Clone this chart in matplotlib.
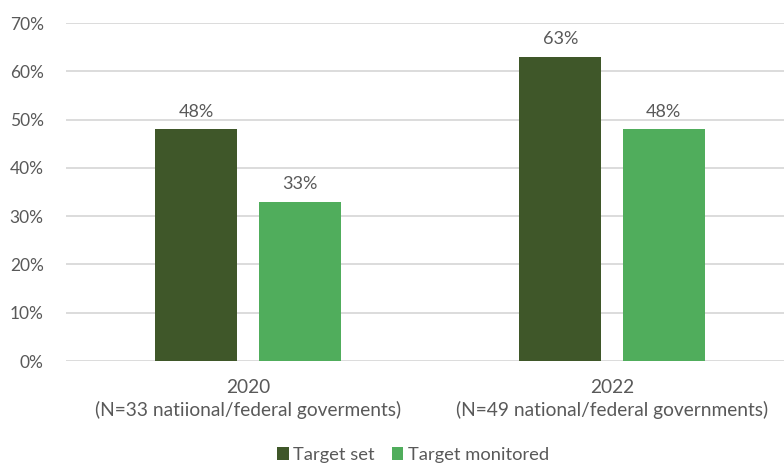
import matplotlib
matplotlib.use("Agg")
import matplotlib.pyplot as plt
import numpy as np

categories = ["2020\n(N=33 natiional/federal goverments)",
              "2022\n(N=49 national/federal governments)"]
target_set = [48, 63]
target_monitored = [33, 48]
series_names = ["Target set", "Target monitored"]
yticks = [0, 10, 20, 30, 40, 50, 60, 70]

dark = "#3F5729"
light = "#50AD5C"
text_col = "#595959"
grid_col = "#D9D9D9"

plt.rcParams["font.family"] = ["Lato", "DejaVu Sans"]

fig = plt.figure(figsize=(7.84, 4.65), dpi=100)
ax = fig.add_axes([66 / 784, 1 - 361 / 465, 728 / 784, (361 - 23) / 465])

x = np.arange(len(categories))
w = 0.225
off = 0.142
b1 = ax.bar(x - off, target_set, w, color=dark, label=series_names[0], zorder=3)
b2 = ax.bar(x + off, target_monitored, w, color=light, label=series_names[1], zorder=3)

for bars, vals in ((b1, target_set), (b2, target_monitored)):
    for rect, v in zip(bars, vals):
        ax.text(rect.get_x() + rect.get_width() / 2, v + 2.0, f"{v}%",
                ha="center", va="bottom", fontsize=13, color=text_col)

ax.set_xlim(-0.5, 1.5)
ax.set_ylim(0, 70)
ax.set_yticks(yticks)
ax.set_yticklabels([f"{t}%" for t in yticks], fontsize=12.5)
ax.set_xticks(x)
ax.set_xticklabels(categories, linespacing=1.35, fontsize=13.8)
ax.grid(axis="y", color=grid_col, linewidth=1.3, zorder=0)
ax.tick_params(axis="both", length=0, colors=text_col)
ax.tick_params(axis="y", pad=16)
ax.tick_params(axis="x", pad=13)
for s in ax.spines.values():
    s.set_visible(False)

fig.legend(handles=[b1, b2], labels=series_names, loc="center",
           bbox_to_anchor=(413 / 784, 1 - 455 / 465), ncol=2, frameon=False,
           fontsize=13.2, handlelength=0.65, handleheight=0.65, handletextpad=0.25,
           columnspacing=0.9, labelcolor=text_col)

fig.savefig("out.png", dpi=100)
